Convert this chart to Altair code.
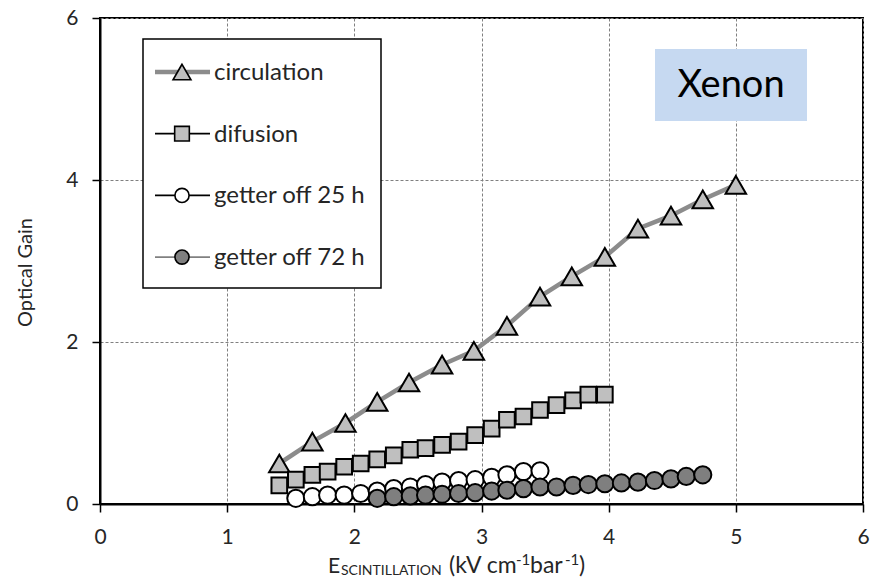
import altair as alt
import pandas as pd

# ---------------- data ----------------
circ_x = [1.41, 1.67, 1.93, 2.18, 2.43, 2.69, 2.94, 3.20, 3.46, 3.71, 3.97, 4.23, 4.49, 4.74, 5.00]
circ_y = [0.50, 0.77, 1.00, 1.26, 1.50, 1.72, 1.89, 2.20, 2.56, 2.81, 3.05, 3.40, 3.56, 3.76, 3.94]

dif_x = [1.41, 1.54, 1.67, 1.79, 1.92, 2.05, 2.18, 2.31, 2.44, 2.56, 2.69,
         2.82, 2.95, 3.08, 3.20, 3.33, 3.46, 3.59, 3.72, 3.84, 3.97]
dif_y = [0.23, 0.30, 0.36, 0.40, 0.46, 0.50, 0.55, 0.60, 0.67, 0.69, 0.73,
         0.77, 0.85, 0.93, 1.04, 1.08, 1.16, 1.22, 1.28, 1.35, 1.35]

g25_x = [1.54, 1.67, 1.79, 1.92, 2.05, 2.18, 2.31, 2.44, 2.56, 2.69, 2.82,
         2.95, 3.08, 3.20, 3.33, 3.46]
g25_y = [0.07, 0.09, 0.11, 0.11, 0.13, 0.16, 0.19, 0.21, 0.24, 0.27, 0.29,
         0.30, 0.33, 0.36, 0.40, 0.41]

g72_x = [2.18, 2.31, 2.44, 2.56, 2.69, 2.82, 2.95, 3.08, 3.20, 3.33, 3.46,
         3.59, 3.72, 3.84, 3.97, 4.10, 4.23, 4.36, 4.49, 4.61, 4.74]
g72_y = [0.07, 0.09, 0.10, 0.11, 0.12, 0.13, 0.14, 0.16, 0.17, 0.19, 0.21,
         0.21, 0.23, 0.24, 0.25, 0.26, 0.27, 0.29, 0.31, 0.34, 0.36]

series_names = ["circulation", "difusion", "getter off 25 h", "getter off 72 h"]
x_ticks = [0, 1, 2, 3, 4, 5, 6]
y_ticks = [0, 2, 4, 6]

# ---------------- styles ----------------
FONT = "Lato"
TXT = "#262626"
styles = {
    "circulation": dict(shape="triangle-up", fill="#bfbfbf", line="#8c8c8c", lw=4.5, size=420, lsize=320),
    "difusion": dict(shape="square", fill="#bfbfbf", line="#000000", lw=1.8, size=245, lsize=215),
    "getter off 25 h": dict(shape="circle", fill="#ffffff", line="#000000", lw=1.8, size=295, lsize=200),
    "getter off 72 h": dict(shape="circle", fill="#7f7f7f", line="#808080", lw=1.8, size=295, lsize=200),
}
values = {
    "circulation": (circ_x, circ_y),
    "difusion": (dif_x, dif_y),
    "getter off 25 h": (g25_x, g25_y),
    "getter off 72 h": (g72_x, g72_y),
}

W, H = 763, 486

xenc = alt.X("x:Q", scale=alt.Scale(domain=[0, 6], nice=False, zero=True),
             axis=alt.Axis(values=x_ticks, title=None, format="d", grid=True,
                           labelPadding=14, labelFlush=False))
yenc = alt.Y("y:Q", scale=alt.Scale(domain=[0, 6], nice=False, zero=True),
             axis=alt.Axis(values=y_ticks, title="Optical Gain", format="d", grid=True,
                           labelPadding=14, labelFlush=False, titleX=-75, titleY=254,
                           titleAngle=270, titleAlign="center", titleBaseline="middle"))

layers = []
for name in series_names:
    xs, ys = values[name]
    st = styles[name]
    df = pd.DataFrame({"x": xs, "y": ys})
    line = alt.Chart(df).mark_line(color=st["line"], strokeWidth=st["lw"]).encode(
        x=xenc, y=yenc)
    pts = alt.Chart(df).mark_point(filled=True, shape=st["shape"], size=st["size"],
                                   fill=st["fill"], stroke="#000000", strokeWidth=2,
                                   opacity=1, fillOpacity=1).encode(x=xenc, y=yenc)
    layers += [line, pts]

dummy = pd.DataFrame({"a": [0]})

# ---------------- legend (manual, as in the reference) ----------------
LX0, LY0, LX1, LY1 = 43, 21, 281, 270
layers.append(alt.Chart(dummy).mark_rect(fill="white", stroke="#000000", strokeWidth=1.5).encode(
    x=alt.value(LX0), x2=alt.value(LX1), y=alt.value(LY0), y2=alt.value(LY1)))
for i, name in enumerate(series_names):
    st = styles[name]
    yy = 54 + i * 61.7
    layers.append(alt.Chart(dummy).mark_rule(color=st["line"], strokeWidth=st["lw"]).encode(
        x=alt.value(55), x2=alt.value(110), y=alt.value(yy)))
    layers.append(alt.Chart(dummy).mark_point(filled=True, shape=st["shape"], size=st["lsize"],
                                              fill=st["fill"], stroke="#000000", strokeWidth=1.6,
                                              opacity=1).encode(
        x=alt.value(82), y=alt.value(yy)))
    layers.append(alt.Chart(dummy).mark_text(text=name, align="left", baseline="middle",
                                             font=FONT, fontSize=24, color=TXT).encode(
        x=alt.value(114), y=alt.value(yy + 1)))

# ---------------- "Xenon" label ----------------
layers.append(alt.Chart(dummy).mark_rect(fill="#c6d9f1").encode(
    x=alt.value(555), x2=alt.value(707), y=alt.value(31), y2=alt.value(103)))
layers.append(alt.Chart(dummy).mark_text(text="Xenon", align="center", baseline="middle",
                                         font=FONT, fontSize=38, color="#000000").encode(
    x=alt.value(631), y=alt.value(68)))

# ---------------- x-axis title with subscript / superscripts ----------------
BASE = 555
title_parts = [
    ("E", 228, 21, 0),
    ("SCINTILLATION", 241, 14, 2),
    ("(kV cm", 349, 23, 0),
    ("-1", 416, 15, -8),
    ("bar", 430, 23, 0),
    ("-1", 465, 15, -8),
    (")", 479, 23, 0),
]
for txt, xpos, fs, dy in title_parts:
    layers.append(alt.Chart(dummy).mark_text(text=txt, align="left", baseline="alphabetic",
                                             font=FONT, fontSize=fs, color=TXT).encode(
        x=alt.value(xpos), y=alt.value(BASE + dy)))

chart = alt.layer(*layers).properties(
    width=W, height=H,
    autosize=alt.AutoSizeParams(type="none"),
    padding={"left": 100, "top": 18, "right": 8, "bottom": 78},
    background="white",
).configure_view(
    stroke="#000000", strokeWidth=2
).configure_axis(
    labelFont=FONT, labelFontSize=21, labelColor=TXT,
    titleFont=FONT, titleFontSize=20, titleFontWeight="normal", titleColor=TXT,
    domainColor="#000000", domainWidth=2,
    tickColor="#000000", tickWidth=1.5, tickSize=8,
    gridColor="#808080", gridDash=[3, 2], gridWidth=1,
)

chart.save("out.html", embed_options={"renderer": "svg", "actions": False})
